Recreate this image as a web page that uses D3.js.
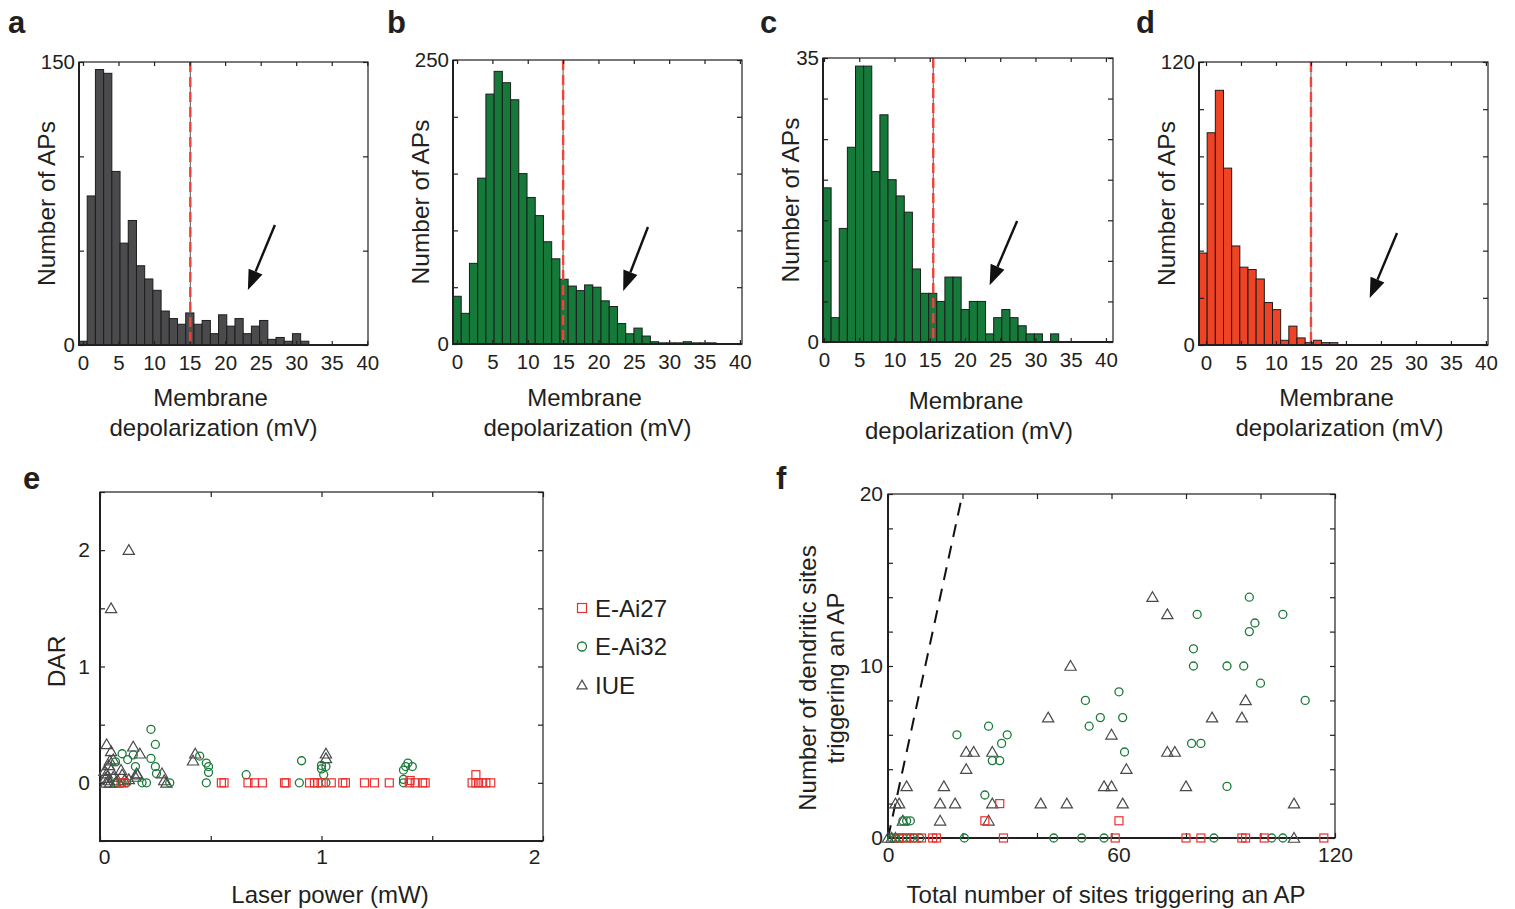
<!DOCTYPE html>
<html>
<head>
<meta charset="utf-8">
<script src="https://cdn.jsdelivr.net/npm/d3@7"></script>
<style>
  body { margin: 0; background: #fff; }
  text { font-family: "Liberation Sans", Arial, sans-serif; fill: #231f20; }
</style>
</head>
<body>
<svg id="fig" width="1515" height="909"></svg>
<script>
// ---- histogram data (counts per bin) ----
const countsA = [2, 79, 146, 144, 92, 54, 66, 42, 35, 29, 18, 14, 11, 17, 11, 13, 6, 16, 10, 14, 6, 10, 13, 3, 4, 2, 6, 2];
const countsB = [42, 27, 71, 146, 220, 240, 230, 215, 150, 129, 113, 90, 75, 57, 51, 47, 52, 50, 38, 33, 18, 9, 14, 7, 2, 1, 1, 1, 2, 1, 1, 1];
const countsC = [19, 3, 14, 24, 34, 34, 21, 28, 20, 18, 16, 9, 6, 6, 5, 8, 8, 4, 5, 5, 1, 3, 4, 3, 2, 1, 1, 0, 1];
const countsD = [39, 90, 108, 75, 42, 33, 32, 28, 18, 15, 2, 8, 3, 1, 2, 1, 1];

const histXTicks = [0, 5, 10, 15, 20, 25, 30, 35, 40];

// ---- panel e: DAR vs laser power ----
const ePowerAi27 = [[0.095,0],[0.108,0],[0.548,0],[0.56,0],[0.668,0],[0.698,0],[0.733,0],[0.833,0],[0.84,0],[0.946,0],
  [0.968,0],[0.983,0],[0.998,0],[1.044,0],[1.096,0],[1.108,0],[1.194,0],[1.239,0],[1.306,0],[1.396,0],[1.423,0],
  [1.456,0],[1.468,0],[1.68,0],[1.697,0],[1.709,0],[1.724,0],[1.742,0],[1.764,0],[1.697,0.07],[1.4,0.02]];
const ePowerAi32 = [[0.23,0.46],[0.25,0.33],[0.23,0.21],[0.25,0.14],[0.255,0.08],[0.1,0.25],[0.07,0.18],[0.125,0.2],
  [0.15,0.24],[0.16,0.14],[0.19,0],[0.21,0],[0.315,0],[0.45,0.23],[0.48,0.17],[0.49,0.14],[0.49,0.09],[0.48,0],
  [0.66,0.07],[0.91,0.19],[0.9,0],[1.0,0.15],[1.0,0.12],[1.02,0.14],[1.01,0.07],[1.02,0],[1.39,0.17],[1.38,0.14],
  [1.41,0.14],[1.37,0.11],[1.37,0.03],[1.37,0],[0.1,0],[0.07,0],[0.12,0]];
const ePowerIUE = [[0.13,2.0],[0.05,1.5],[0.03,0.33],[0.05,0.27],[0.045,0.19],[0.04,0.15],[0.05,0.11],[0.03,0.08],
  [0.025,0.04],[0.027,0],[0.04,0.02],[0.06,0.05],[0.095,0.11],[0.1,0.07],[0.15,0.31],[0.18,0.25],[0.165,0.08],
  [0.17,0.07],[0.16,0.05],[0.13,0.03],[0.28,0.08],[0.29,0.02],[0.3,0],[0.42,0.19],[0.43,0.25],[1.02,0.25],
  [1.02,0.21],[0.045,0],[0.07,0],[0.02,0.1],[0.06,0.2],[0.08,0.02],[0.11,0.02]];

// ---- panel f: dendritic vs total sites ----
const fSitesAi27 = [[30,2],[26,1],[62,1],[9,0],[12,0],[13,0],[31,0],[61,0],[80,0],[84,0],[95,0],[96,0],[101,0],[117,0],[3,0],[5,0],[7,0]];
const fSitesAi32 = [[97,14],[83,13],[106,13],[98.5,12.5],[97,12],[82,11],[82,10],[91,10],[95.5,10],[100,9],[112,8],
  [62,8.5],[53,8],[57,7],[63,7],[54,6.5],[63.5,5],[81.5,5.5],[84,5.5],[91,3],[18.5,6],[27,6.5],[30.5,5.5],[32,6],
  [28,4.5],[30,4.5],[26,2.5],[4,1],[5,1],[6,1],[20.5,0],[44.5,0],[52,0],[58,0],[87.5,0],[103,0],[106,0],[8.5,0],
  [1,0],[2,0],[3,0],[4,0],[5,0],[6,0],[7,0]];
const fSitesIUE = [[71,14],[75,13],[49,10],[43,7],[60,6],[21,5],[23,5],[28,5],[21,4],[64,4],[75,5],[77,5],[87,7],
  [95,7],[96,8],[58,3],[60,3],[80,3],[5,3],[15,3],[14,2],[18,2],[28,2],[41,2],[48,2],[63,2],[109,2],[2,2],[3,2],
  [14,1],[27,1],[4,1],[109,0],[0,0],[1,0],[2,0]];
const unityLine = [[0, 0], [20, 20]];

const legendNames = ["E-Ai27", "E-Ai32", "IUE"];

// colours
const colAi27 = "#e8302f", colAi32 = "#1b7b3b", colIUE = "#4a4a4a";

const svg = d3.select("#fig");

function frame(g, w, h) {
  g.append("rect").attr("width", w).attr("height", h)
    .attr("fill", "none").attr("stroke", "#231f20").attr("stroke-width", 1.2);
  g.append("path").attr("d", `M0,0V${h}H${w}`)
    .attr("fill", "none").attr("stroke", "#231f20").attr("stroke-width", 2);
}

function styleAxis(sel, size) {
  sel.select(".domain").remove();
  sel.selectAll(".tick line").attr("stroke", "#231f20").attr("stroke-width", 1.2);
  sel.selectAll(".tick text").attr("font-size", size).style("font-family", "'Liberation Sans', Arial, sans-serif").attr("fill", "#231f20");
}

function histogram(cfg) {
  const g = svg.append("g").attr("transform", `translate(${cfg.left},${cfg.top})`);
  const x = d3.scaleLinear().domain(cfg.xDomain).range([0, cfg.w]);
  const y = d3.scaleLinear().domain([0, cfg.yMax]).range([cfg.h, 0]);

  g.selectAll("rect.bar").data(cfg.counts).join("rect")
    .attr("class", "bar")
    .attr("x", (d, i) => x(cfg.binStart + i * cfg.binWidth))
    .attr("width", x(cfg.binWidth) - x(0))
    .attr("y", d => y(d))
    .attr("height", d => y(0) - y(d))
    .attr("fill", cfg.color).attr("stroke", "#1d1d1d").attr("stroke-width", 1);

  // threshold line
  g.append("line").attr("x1", x(cfg.threshold)).attr("x2", x(cfg.threshold))
    .attr("y1", 0).attr("y2", cfg.h).attr("stroke", "#555").attr("stroke-width", 1);
  g.append("line").attr("x1", x(cfg.threshold)).attr("x2", x(cfg.threshold))
    .attr("y1", 0).attr("y2", cfg.h).attr("stroke", "#f0433a").attr("stroke-width", 2.4)
    .attr("stroke-dasharray", "10,5");

  const yt = d3.range(0, cfg.yMax + 0.001, cfg.yStep);
  g.append("g").call(d3.axisLeft(y).tickValues(yt).tickSize(-5).tickPadding(4)
      .tickFormat(d => (d === 0 || d === cfg.yMax) ? d : ""))
    .call(s => styleAxis(s, 20.5));
  g.append("g").attr("transform", `translate(${cfg.w},0)`)
    .call(d3.axisRight(y).tickValues(yt).tickSize(-5).tickFormat(""))
    .call(s => styleAxis(s, 20));
  g.append("g").attr("transform", `translate(0,${cfg.h})`)
    .call(d3.axisBottom(x).tickValues(histXTicks).tickSize(-4).tickPadding(10))
    .call(s => styleAxis(s, 20.5));
  g.append("g").call(d3.axisTop(x).tickValues(histXTicks).tickSize(-4).tickFormat(""))
    .call(s => styleAxis(s, 20));
  frame(g, cfg.w, cfg.h);

  // arrow annotation
  const [t, hd] = cfg.arrow;
  const x1 = x(t[0]), y1 = y(t[1]), x2 = x(hd[0]), y2 = y(hd[1]);
  const ang = Math.atan2(y2 - y1, x2 - x1);
  const L = 20, W = 7.5;
  const bx = x2 - L * Math.cos(ang), by = y2 - L * Math.sin(ang);
  g.append("line").attr("x1", x1).attr("y1", y1).attr("x2", bx).attr("y2", by)
    .attr("stroke", "#111").attr("stroke-width", 2.4);
  g.append("path")
    .attr("d", `M${x2},${y2}L${bx + W * Math.sin(ang)},${by - W * Math.cos(ang)}L${bx - W * Math.sin(ang)},${by + W * Math.cos(ang)}Z`)
    .attr("fill", "#111");

  // labels
  svg.append("text").attr("transform", `translate(${cfg.left - 24},${cfg.top + cfg.h / 2}) rotate(-90)`)
    .attr("text-anchor", "middle").attr("font-size", 24.5).text("Number of APs");
  const cx = cfg.left + cfg.w / 2 + cfg.labelDx;
  const t2 = svg.append("text").attr("text-anchor", "middle").attr("font-size", 24);
  t2.append("tspan").attr("x", cx).attr("y", cfg.labelY).text("Membrane");
  t2.append("tspan").attr("x", cx + 3).attr("y", cfg.labelY + 30).text("depolarization (mV)");
  svg.append("text").attr("x", cfg.letterX).attr("y", 33).attr("font-size", 31)
    .attr("font-weight", "bold").text(cfg.letter);
}

histogram({ letter: "a", letterX: 8, left: 79, top: 62, w: 289, h: 283, xDomain: [-0.56, 40.1], yMax: 150, yStep: 50,
  counts: countsA, binStart: -0.56, binWidth: 1.155, color: "#4b4b4d", threshold: 15.1, arrow: [[27.0, 63.6], [23.2, 29.1]],
  labelDx: -13, labelY: 406 });
histogram({ letter: "b", letterX: 387, left: 453, top: 60, w: 289, h: 284, xDomain: [-0.57, 40.3], yMax: 250, yStep: 50,
  counts: countsB, binStart: -0.57, binWidth: 1.163, color: "#15793a", threshold: 15.0, arrow: [[27.0, 103], [23.5, 46.7]],
  labelDx: -13, labelY: 406 });
histogram({ letter: "c", letterX: 760, left: 823, top: 58, w: 290, h: 284, xDomain: [-0.14, 41], yMax: 35, yStep: 5,
  counts: countsC, binStart: -0.14, binWidth: 1.153, color: "#15793a", threshold: 15.5, arrow: [[27.4, 14.9], [23.5, 7.0]],
  labelDx: -2, labelY: 409 });
histogram({ letter: "d", letterX: 1136, left: 1199, top: 62, w: 289, h: 283, xDomain: [-1.0, 40.3], yMax: 120, yStep: 20,
  counts: countsD, binStart: -1.0, binWidth: 1.167, color: "#ef4326", threshold: 15.0, arrow: [[27.3, 47.5], [23.4, 19.9]],
  labelDx: -7, labelY: 406 });

// marker drawing helpers
function drawMarkers(g, pts, x, y, shape, color, size) {
  if (shape === "square") {
    g.selectAll(null).data(pts).join("rect")
      .attr("x", d => x(d[0]) - size / 2).attr("y", d => y(d[1]) - size / 2)
      .attr("width", size).attr("height", size)
      .attr("fill", "none").attr("stroke", color).attr("stroke-width", 1.2);
  } else if (shape === "circle") {
    g.selectAll(null).data(pts).join("circle")
      .attr("cx", d => x(d[0])).attr("cy", d => y(d[1])).attr("r", size / 2)
      .attr("fill", "none").attr("stroke", color).attr("stroke-width", 1.3);
  } else {
    const tri = d3.symbol().type(d3.symbolTriangle).size(size * size * 0.55);
    g.selectAll(null).data(pts).join("path")
      .attr("d", tri)
      .attr("transform", d => `translate(${x(d[0])},${y(d[1]) + 1})`)
      .attr("fill", "none").attr("stroke", color).attr("stroke-width", 1.2);
  }
}

// ---- panel e ----
{
  const left = 100, top = 492, w = 443, h = 349;
  const g = svg.append("g").attr("transform", `translate(${left},${top})`);
  const x = d3.scaleLinear().domain([0, 2]).range([0, w]);
  const y = d3.scaleLinear().domain([-0.5, 2.5]).range([h, 0]);
  const yt = [-0.5, 0, 0.5, 1, 1.5, 2, 2.5], xt = [0, 0.5, 1, 1.5, 2];
  g.append("g").call(d3.axisLeft(y).tickValues(yt).tickSize(-5).tickPadding(10)
    .tickFormat(d => [0, 1, 2].includes(d) ? d : "")).call(s => styleAxis(s, 21));
  g.append("g").attr("transform", `translate(${w},0)`).call(d3.axisRight(y).tickValues(yt).tickSize(-5).tickFormat(""))
    .call(s => styleAxis(s, 21));
  g.append("g").attr("transform", `translate(0,${h})`).call(d3.axisBottom(x).tickValues(xt).tickSize(-5).tickPadding(8)
    .tickFormat(d => [0, 1, 2].includes(d) ? d : "")).call(s => styleAxis(s, 21))
    .call(s => s.selectAll(".tick text").attr("dx", d => d === 0 ? 4 : d === 2 ? -9 : 0));
  g.append("g").call(d3.axisTop(x).tickValues(xt).tickSize(-5).tickFormat("")).call(s => styleAxis(s, 21));
  frame(g, w, h);
  drawMarkers(g, ePowerIUE, x, y, "triangle", colIUE, 10);
  drawMarkers(g, ePowerAi32, x, y, "circle", colAi32, 8);
  drawMarkers(g, ePowerAi27, x, y, "square", colAi27, 8);

  svg.append("text").attr("transform", `translate(65,${top + h / 2 - 5}) rotate(-90)`)
    .attr("text-anchor", "middle").attr("font-size", 24.5).text("DAR");
  svg.append("text").attr("x", 330).attr("y", 903).attr("text-anchor", "middle")
    .attr("font-size", 24).text("Laser power (mW)");
  svg.append("text").attr("x", 23).attr("y", 489).attr("font-size", 31).attr("font-weight", "bold").text("e");

  // legend
  const lg = svg.append("g").attr("transform", "translate(582,608)");
  const shapes = ["square", "circle", "triangle"], cols = [colAi27, colAi32, colIUE];
  legendNames.forEach((n, i) => {
    const row = lg.append("g").attr("transform", `translate(0,${i * 38.5})`);
    drawMarkers(row, [[0, 0]], d => d, d => d, shapes[i], cols[i], 9);
    row.append("text").attr("x", 13).attr("y", 8.5).attr("font-size", 24).text(n);
  });
}

// ---- panel f ----
{
  const left = 888, top = 494, w = 447, h = 344;
  const g = svg.append("g").attr("transform", `translate(${left},${top})`);
  const x = d3.scaleLinear().domain([0, 120]).range([0, w]);
  const y = d3.scaleLinear().domain([0, 20]).range([h, 0]);
  const yt = d3.range(0, 21, 2), xt = d3.range(0, 121, 20);
  g.append("g").call(d3.axisLeft(y).tickValues(yt).tickSize(-5).tickPadding(5)
    .tickFormat(d => [0, 10, 20].includes(d) ? d : "")).call(s => styleAxis(s, 21));
  g.append("g").attr("transform", `translate(${w},0)`).call(d3.axisRight(y).tickValues(yt).tickSize(-5).tickFormat(""))
    .call(s => styleAxis(s, 21));
  g.append("g").attr("transform", `translate(0,${h})`).call(d3.axisBottom(x).tickValues(xt).tickSize(-5).tickPadding(9)
    .tickFormat(d => [0, 60, 120].includes(d) ? d : "")).call(s => styleAxis(s, 21))
    .call(s => s.selectAll(".tick text").attr("dx", d => d === 60 ? 7 : 0));
  g.append("g").call(d3.axisTop(x).tickValues(xt).tickSize(-5).tickFormat("")).call(s => styleAxis(s, 21));

  g.append("path").datum(unityLine)
    .attr("d", d3.line().x(d => x(d[0])).y(d => y(d[1])))
    .attr("fill", "none").attr("stroke", "#111").attr("stroke-width", 2).attr("stroke-dasharray", "13,9");
  frame(g, w, h);
  drawMarkers(g, fSitesIUE, x, y, "triangle", colIUE, 10);
  drawMarkers(g, fSitesAi32, x, y, "circle", colAi32, 8);
  drawMarkers(g, fSitesAi27, x, y, "square", colAi27, 8);

  const yl = svg.append("text").attr("transform", `translate(816,${top + h / 2 + 12}) rotate(-90)`)
    .attr("text-anchor", "middle").attr("font-size", 24);
  yl.append("tspan").attr("x", 0).attr("y", 0).text("Number of dendritic sites");
  yl.append("tspan").attr("x", 0).attr("y", 28).text("triggering an AP");
  svg.append("text").attr("x", 1106).attr("y", 903).attr("text-anchor", "middle")
    .attr("font-size", 24).text("Total number of sites triggering an AP");
  svg.append("text").attr("x", 776).attr("y", 489).attr("font-size", 31).attr("font-weight", "bold").text("f");
}
</script>
</body>
</html>
